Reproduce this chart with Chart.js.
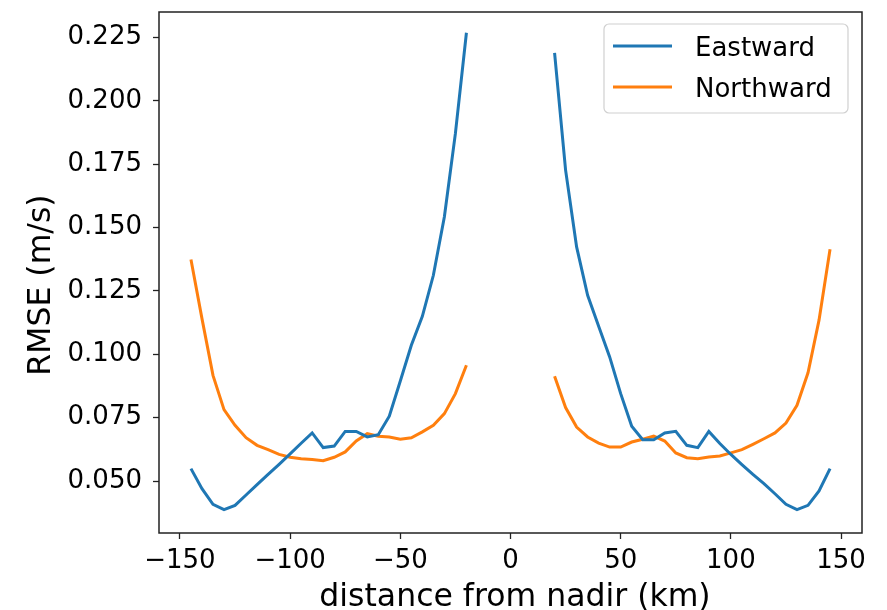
<!DOCTYPE html>
<html>
<head>
<meta charset="utf-8">
<script src="https://cdn.jsdelivr.net/npm/chart.js@4.4.1/dist/chart.umd.min.js"></script>
<style>
  html, body { margin: 0; padding: 0; background: #fff; }
  canvas { display: block; }
</style>
</head>
<body>
<canvas id="myChart" width="887" height="610"></canvas>
<script>
// distance from nadir (km), both swath sides
const distLeft = [-145, -140, -135, -130, -125, -120, -115, -110, -105, -100, -95, -90, -85,
  -80, -75, -70, -65, -60, -55, -50, -45, -40, -35, -30, -25, -20];
const distRight = [20, 25, 30, 35, 40, 45, 50, 55, 60, 65, 70, 75, 80,
  85, 90, 95, 100, 105, 110, 115, 120, 125, 130, 135, 140, 145];

const eastLeft = [0.0549, 0.0470, 0.0408, 0.0387, 0.0404, 0.0445, 0.0486, 0.0526, 0.0566, 0.0607,
  0.0649, 0.0690, 0.0632, 0.0638, 0.0696, 0.0696, 0.0674, 0.0683, 0.0756, 0.0895,
  0.1036, 0.1150, 0.1312, 0.1543, 0.1872, 0.2269];
const eastRight = [0.2190, 0.1727, 0.1424, 0.1233, 0.1111, 0.0990, 0.0845, 0.0716, 0.0663, 0.0663,
  0.0690, 0.0696, 0.0641, 0.0632, 0.0696, 0.0648, 0.0605, 0.0565, 0.0526, 0.0490,
  0.0450, 0.0408, 0.0387, 0.0404, 0.0461, 0.0549];

const northLeft = [0.1374, 0.1141, 0.0917, 0.0782, 0.0720, 0.0671, 0.0641, 0.0624, 0.0605, 0.0594,
  0.0588, 0.0585, 0.0580, 0.0594, 0.0615, 0.0658, 0.0687, 0.0677, 0.0674, 0.0665,
  0.0671, 0.0694, 0.0720, 0.0766, 0.0845, 0.0957];
const northRight = [0.0914, 0.0790, 0.0713, 0.0674, 0.0650, 0.0634, 0.0634, 0.0654, 0.0665, 0.0677,
  0.0658, 0.0611, 0.0592, 0.0588, 0.0595, 0.0599, 0.0611, 0.0624, 0.0645, 0.0667,
  0.0690, 0.0729, 0.0799, 0.0927, 0.1135, 0.1415];

const xTicks = [-150, -100, -50, 0, 50, 100, 150];
const yTicks = [0.050, 0.075, 0.100, 0.125, 0.150, 0.175, 0.200, 0.225];

const seriesNames = ['Eastward', 'Northward'];
const seriesColors = ['#1f77b4', '#ff7f0e'];

// join both sides, null point at nadir breaks the line
function buildPoints(left, right) {
  const pts = distLeft.map((d, i) => ({ x: d, y: left[i] }));
  pts.push({ x: 0, y: null });
  distRight.forEach((d, i) => pts.push({ x: d, y: right[i] }));
  return pts;
}

const FONT = 'DejaVu Sans';

const framePlugin = {
  id: 'frame',
  afterDraw(chart) {
    const ctx = chart.ctx;
    const a = chart.chartArea;
    ctx.save();
    ctx.strokeStyle = '#222';
    ctx.lineWidth = 1.5;
    ctx.strokeRect(a.left, a.top, a.right - a.left, a.bottom - a.top);

    // axis titles
    ctx.fillStyle = '#000';
    ctx.font = '31.5px "' + FONT + '"';
    ctx.textAlign = 'center';
    ctx.textBaseline = 'alphabetic';
    ctx.fillText('distance from nadir (km)', 515, 606);
    ctx.save();
    ctx.translate(50, 285);
    ctx.rotate(-Math.PI / 2);
    ctx.fillText('RMSE (m/s)', 0, 0);
    ctx.restore();

    // legend box
    const bx = 604, by = 24, bw = 244, bh = 89, r = 5;
    ctx.beginPath();
    ctx.moveTo(bx + r, by);
    ctx.arcTo(bx + bw, by, bx + bw, by + bh, r);
    ctx.arcTo(bx + bw, by + bh, bx, by + bh, r);
    ctx.arcTo(bx, by + bh, bx, by, r);
    ctx.arcTo(bx, by, bx + bw, by, r);
    ctx.closePath();
    ctx.fillStyle = 'rgba(255,255,255,0.8)';
    ctx.fill();
    ctx.strokeStyle = '#d0d0d0';
    ctx.lineWidth = 1.2;
    ctx.stroke();

    ctx.font = '26px "' + FONT + '"';
    ctx.textAlign = 'left';
    const rows = [{ ly: 46, ty: 56 }, { ly: 87, ty: 97 }];
    seriesNames.forEach((name, i) => {
      ctx.strokeStyle = seriesColors[i];
      ctx.lineWidth = 3;
      ctx.beginPath();
      ctx.moveTo(613, rows[i].ly);
      ctx.lineTo(672, rows[i].ly);
      ctx.stroke();
      ctx.fillStyle = '#000';
      ctx.fillText(name, 695, rows[i].ty);
    });
    ctx.restore();
  }
};

const ctx = document.getElementById('myChart');

new Chart(ctx, {
  type: 'line',
  data: {
    datasets: [
      {
        label: seriesNames[0],
        data: buildPoints(eastLeft, eastRight),
        borderColor: seriesColors[0],
        backgroundColor: seriesColors[0],
        borderWidth: 3,
        pointRadius: 0,
        tension: 0,
        spanGaps: false
      },
      {
        label: seriesNames[1],
        data: buildPoints(northLeft, northRight),
        borderColor: seriesColors[1],
        backgroundColor: seriesColors[1],
        borderWidth: 3,
        pointRadius: 0,
        tension: 0,
        spanGaps: false
      }
    ]
  },
  options: {
    responsive: false,
    animation: false,
    devicePixelRatio: 1,
    layout: { padding: { top: 12, right: 25, left: 0, bottom: 0 } },
    plugins: {
      legend: { display: false },
      tooltip: { enabled: false }
    },
    scales: {
      x: {
        type: 'linear',
        min: -159.5,
        max: 159.5,
        afterBuildTicks: (scale) => { scale.ticks = xTicks.map(v => ({ value: v })); },
        afterFit: (scale) => {
          scale.height = 77;
          scale.paddingLeft = 0;
          scale.paddingRight = 0;
        },
        grid: { drawOnChartArea: false, drawTicks: true, tickLength: 6, tickColor: '#222', tickWidth: 1.3 },
        border: { display: false },
        ticks: {
          color: '#000',
          padding: 7,
          maxRotation: 0,
          font: { family: FONT, size: 26 },
          callback: (v) => v < 0 ? '\u2212' + Math.abs(v) : String(v)
        }
      },
      y: {
        type: 'linear',
        min: 0.0295,
        max: 0.2351,
        afterBuildTicks: (scale) => { scale.ticks = yTicks.map(v => ({ value: v })); },
        afterFit: (scale) => {
          scale.width = 159;
          scale.paddingTop = 0;
          scale.paddingBottom = 0;
        },
        grid: { drawOnChartArea: false, drawTicks: true, tickLength: 6, tickColor: '#222', tickWidth: 1.3 },
        border: { display: false },
        ticks: {
          color: '#000',
          padding: 11,
          font: { family: FONT, size: 26 },
          callback: (v) => v.toFixed(3)
        }
      }
    }
  },
  plugins: [framePlugin]
});
</script>
</body>
</html>
